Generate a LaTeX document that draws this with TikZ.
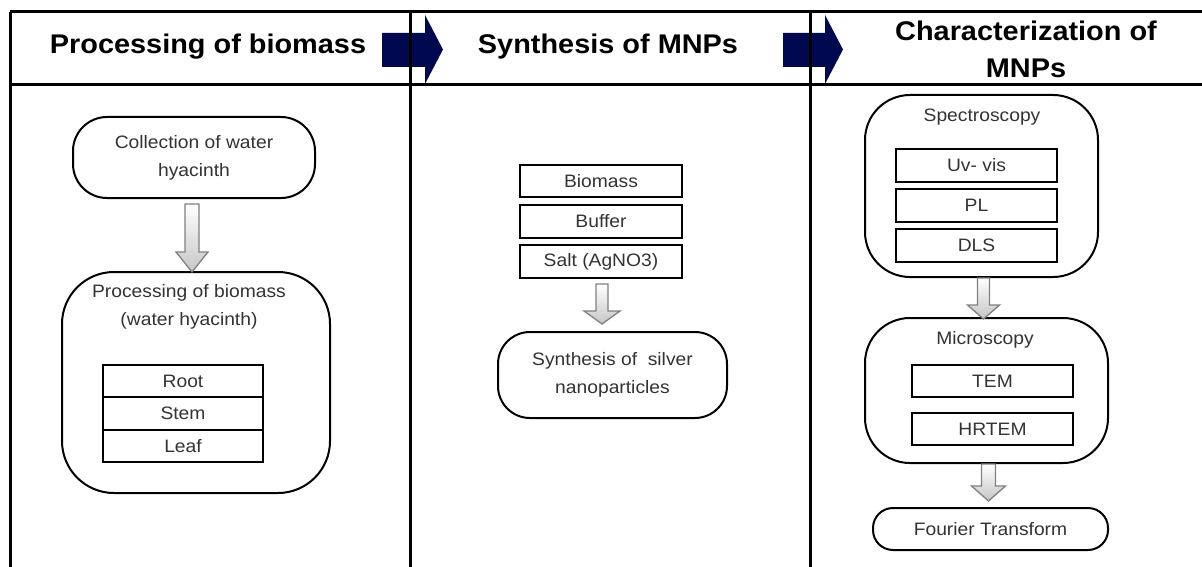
\documentclass[tikz,border=0pt]{standalone}
\usepackage{fontspec}
\setmainfont{Liberation Sans}[FakeStretch=1.07]
\usetikzlibrary{calc}
\definecolor{navy}{HTML}{00084F}
\definecolor{txt}{HTML}{333333}
\definecolor{arrline}{HTML}{808080}
\tikzset{
  frameline/.style={line width=3pt},
  bodyfont/.style={font=\fontsize{18}{28}\selectfont},
  rbox/.style={draw, line width=2pt, rounded corners=#1, text=txt, bodyfont, align=center, inner sep=0pt},
  sbox/.style={draw, line width=2pt, text=txt, bodyfont, inner sep=0pt},
  lbl/.style={text=txt, bodyfont, align=center, inner sep=0pt},
  headtxt/.style={font=\bfseries\fontsize{27}{37}\selectfont, align=center, inner sep=0pt},
  hdarrow/.style={fill=navy, draw=none},
  barrow/.style={draw=arrline, line width=1.3pt, top color=white, bottom color=gray!45}
}
% block arrow: start, end, shaft half width, head half width, head length
\newcommand{\blockarr}[5]{%
  \draw[barrow] let \p1=(#1), \p2=(#2) in
    (\x1-#3pt,\y1) -- (\x1-#3pt,\y2+#5pt) -- (\x1-#4pt,\y2+#5pt) -- (\x1,\y2)
    -- (\x1+#4pt,\y2+#5pt) -- (\x1+#3pt,\y2+#5pt) -- (\x1+#3pt,\y1) -- cycle;}
\begin{document}
\begin{tikzpicture}[x=1pt,y=-1pt]
\useasboundingbox (0,0) rectangle (1202,567);
\fill[white] (0,0) rectangle (1202,567);

% header arrows
\fill[hdarrow] (382,33) -- (425,33) -- (425,15) -- (443,49.5) -- (425,84) -- (425,67) -- (382,67) -- cycle;
\fill[hdarrow] (783,33) -- (825,33) -- (825,15) -- (843,49.5) -- (825,84) -- (825,67) -- (783,67) -- cycle;

% frame
\draw[frameline] (10,12) -- (1202,12);
\draw[frameline] (10,85) -- (1202,85);
\draw[frameline] (10,12) -- (10,567);
\draw[frameline] (410,12) -- (410,567);
\draw[frameline] (810,12) -- (810,567);

% headers
\node[headtxt] (h1) at (208,47) {Processing of biomass};
\node[headtxt] (h2) at (608,47) {Synthesis of MNPs};
\node[headtxt] (h3) at (1026,49) {Characterization of\\MNPs};

% left column
\node[rbox=34pt, minimum width=242pt, minimum height=81pt] (coll) at (194,157.5) {Collection of water\\hyacinth};
\node[rbox=52pt, minimum width=268pt, minimum height=221pt] (proc) at (196,382.5) {};
\node[lbl] (proct) at (189,307) {Processing of biomass\\(water hyacinth)};
\node[sbox, minimum width=160pt, minimum height=32pt] (root) at (183,381) {Root};
\node[sbox, minimum width=160pt, minimum height=33pt] (stem) at (183,413.5) {Stem};
\node[sbox, minimum width=160pt, minimum height=32pt] (leaf) at (183,446) {Leaf};
\blockarr{$(coll.south)+(-2,5)$}{$(proc.north)+(-4,1)$}{7}{16}{20}

% middle column
\node[sbox, minimum width=162pt, minimum height=32pt] (bio) at (601,181) {Biomass};
\node[sbox, minimum width=162pt, minimum height=33pt] (buf) at (601,221.5) {Buffer};
\node[sbox, minimum width=162pt, minimum height=33pt] (salt) at (601,261.5) {Salt (AgNO3)};
\node[rbox=32pt, minimum width=229pt, minimum height=86pt] (syn) at (612.5,375) {Synthesis of\ \ silver\\nanoparticles};
\blockarr{$(salt.south)+(1,5)$}{$(syn.north)+(-10,-7)$}{6}{18}{13}

% right column
\node[rbox=45pt, minimum width=233pt, minimum height=182pt] (spec) at (981.5,186) {};
\node[lbl] (spect) at (982,117) {Spectroscopy};
\node[sbox, minimum width=161pt, minimum height=33pt] (uv) at (976.5,165.5) {Uv- vis};
\node[sbox, minimum width=161pt, minimum height=33pt] (pl) at (976.5,205.5) {PL};
\node[sbox, minimum width=161pt, minimum height=33pt] (dls) at (976.5,245.5) {DLS};

\node[rbox=45pt, minimum width=243pt, minimum height=145pt] (micro) at (986.5,390.5) {};
\node[lbl] (microt) at (985,340) {Microscopy};
\node[sbox, minimum width=161pt, minimum height=32pt] (tem) at (992.5,381) {TEM};
\node[sbox, minimum width=161pt, minimum height=32pt] (hrtem) at (992.5,429) {HRTEM};
\node[rbox=20pt, minimum width=235pt, minimum height=42pt] (four) at (990.5,529) {Fourier Transform};

\blockarr{$(spec.south)+(2,0)$}{$(micro.north)+(0,2)$}{6}{16}{14}
\blockarr{$(micro.south)+(2,0)$}{$(four.north)+(0,-6)$}{7}{17}{15}
\end{tikzpicture}
\end{document}
